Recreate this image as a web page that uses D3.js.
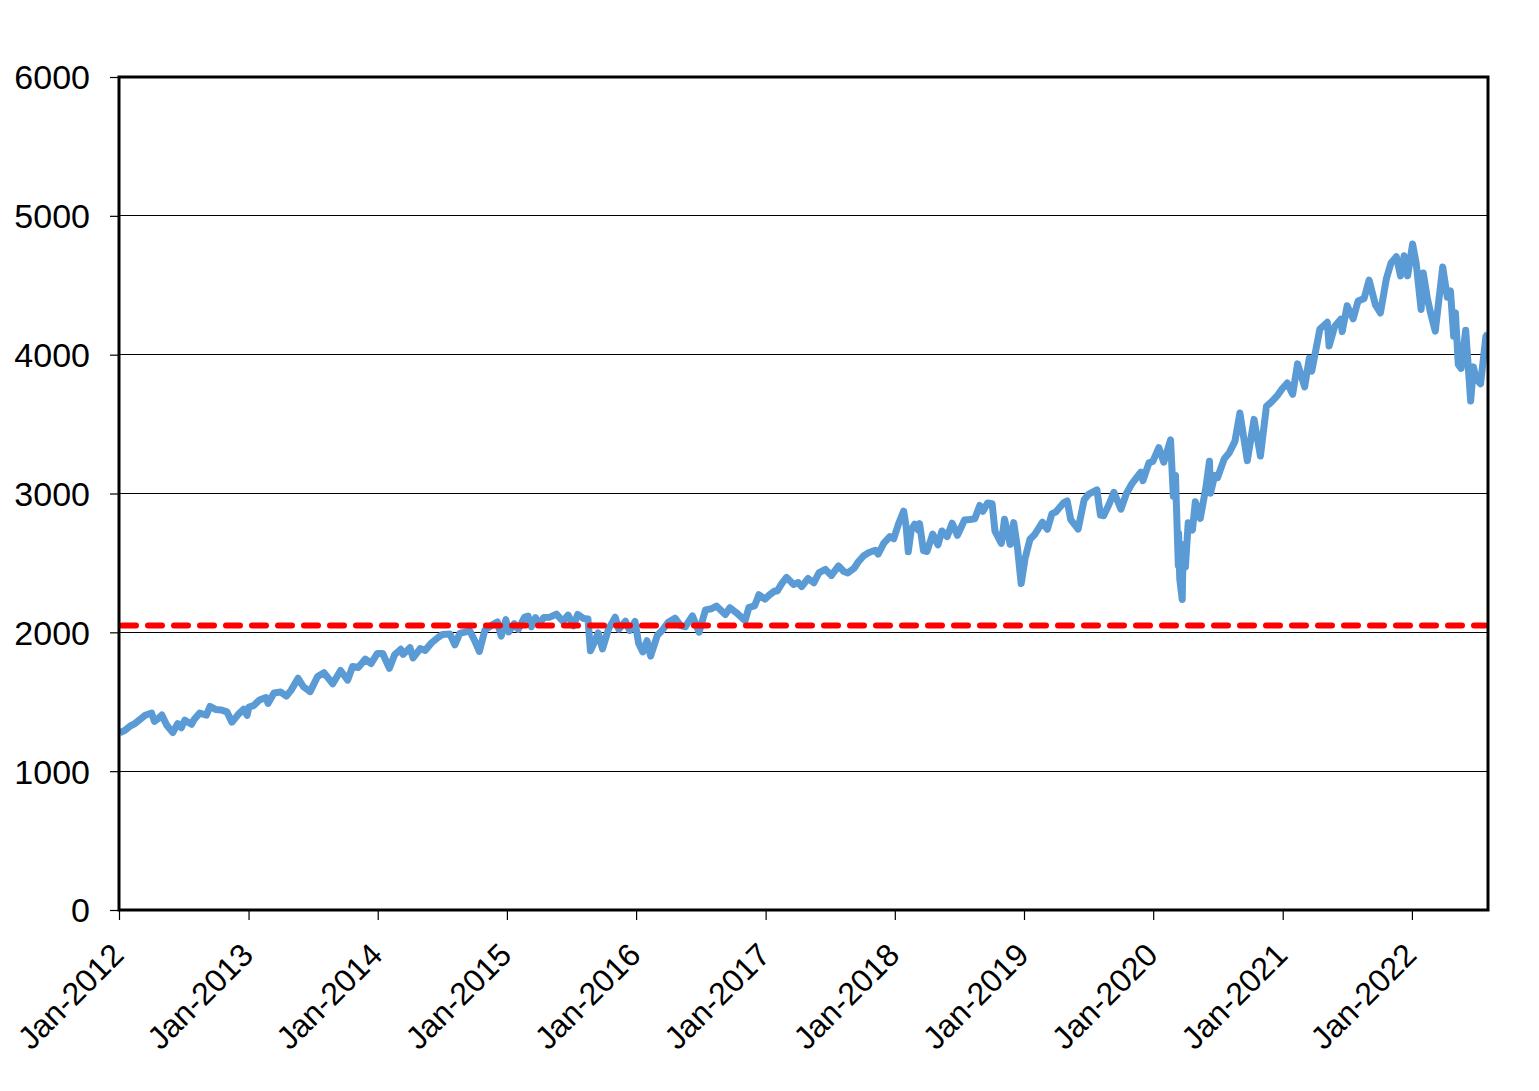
<!DOCTYPE html>
<html>
<head>
<meta charset="utf-8">
<script src="https://cdn.jsdelivr.net/npm/d3@7"></script>
<style>
  html, body { margin: 0; padding: 0; background: #ffffff; }
  svg { display: block; }
</style>
</head>
<body>
<div id="chart"></div>
<script>
// ---------------- data ----------------
const dates = [
  "2012-01-03","2012-01-17","2012-02-01","2012-02-15","2012-03-01","2012-03-15","2012-04-02","2012-04-10","2012-04-20","2012-05-01","2012-05-15","2012-06-01","2012-06-15","2012-06-25","2012-07-05","2012-07-24","2012-08-01","2012-08-16","2012-09-04","2012-09-14","2012-10-01","2012-10-15","2012-11-01","2012-11-15","2012-12-03","2012-12-18","2012-12-28",
  "2013-01-02","2013-01-15","2013-02-01","2013-02-19","2013-02-25","2013-03-14","2013-04-02","2013-04-18","2013-05-01","2013-05-21","2013-06-05","2013-06-24","2013-07-15","2013-08-02","2013-08-27","2013-09-18","2013-10-08","2013-10-22","2013-11-07","2013-11-27","2013-12-13","2013-12-31",
  "2014-01-15","2014-02-03","2014-02-18","2014-03-07","2014-03-14","2014-04-02","2014-04-11","2014-05-01","2014-05-15","2014-06-02","2014-06-20","2014-07-03","2014-07-24","2014-08-07","2014-08-21","2014-09-18","2014-10-01","2014-10-15","2014-10-31","2014-11-20","2014-12-05","2014-12-16","2014-12-29",
  "2015-01-06","2015-01-22","2015-02-02","2015-02-20","2015-03-02","2015-03-11","2015-03-23","2015-04-01","2015-04-15","2015-05-01","2015-05-21","2015-06-08","2015-06-23","2015-07-08","2015-07-20","2015-08-05","2015-08-18","2015-08-25","2015-09-04","2015-09-16","2015-09-28","2015-10-15","2015-11-03","2015-11-13","2015-12-02","2015-12-14","2015-12-29",
  "2016-01-08","2016-01-20","2016-02-01","2016-02-11","2016-03-01","2016-03-15","2016-04-01","2016-04-20","2016-05-05","2016-05-19","2016-06-08","2016-06-27","2016-07-15","2016-08-01","2016-08-15","2016-09-09","2016-09-22","2016-10-14","2016-11-04","2016-11-15","2016-12-01","2016-12-13","2016-12-30",
  "2017-01-12","2017-01-26","2017-02-03","2017-02-15","2017-03-01","2017-03-21","2017-04-03","2017-04-13","2017-05-01","2017-05-17","2017-06-01","2017-06-19","2017-07-06","2017-07-26","2017-08-10","2017-08-21","2017-09-08","2017-09-20","2017-10-05","2017-10-20","2017-11-07","2017-11-15","2017-12-01","2017-12-18","2017-12-29",
  "2018-01-12","2018-01-26","2018-02-02","2018-02-08","2018-02-16","2018-02-26","2018-03-08","2018-03-12","2018-03-23","2018-04-02","2018-04-18","2018-05-03","2018-05-14","2018-05-29","2018-06-12","2018-06-27","2018-07-17","2018-08-01","2018-08-15","2018-08-29","2018-09-07","2018-09-20","2018-10-03","2018-10-11","2018-10-29","2018-11-07","2018-11-23","2018-12-03","2018-12-14","2018-12-24",
  "2019-01-04","2019-01-18","2019-02-01","2019-02-22","2019-03-08","2019-03-21","2019-04-01","2019-04-23","2019-05-03","2019-05-13","2019-06-03","2019-06-20","2019-07-03","2019-07-26","2019-08-05","2019-08-14","2019-08-30","2019-09-12","2019-10-02","2019-10-17","2019-11-01","2019-11-27","2019-12-03","2019-12-20","2019-12-31",
  "2020-01-17","2020-01-31","2020-02-19","2020-02-27","2020-03-04","2020-03-12","2020-03-13","2020-03-16","2020-03-23","2020-03-26","2020-04-01","2020-04-09","2020-04-21","2020-04-29","2020-05-13","2020-05-29","2020-06-08","2020-06-11","2020-06-23","2020-07-01","2020-07-20","2020-08-03","2020-08-19","2020-09-02","2020-09-23","2020-10-12","2020-10-30","2020-11-16","2020-12-01","2020-12-18","2020-12-31",
  "2021-01-14","2021-01-29","2021-02-12","2021-03-04","2021-03-17","2021-03-24","2021-04-16","2021-05-07","2021-05-12","2021-05-28","2021-06-14","2021-06-18","2021-07-02","2021-07-19","2021-08-02","2021-08-19","2021-09-02","2021-09-20","2021-10-04","2021-10-21","2021-11-03","2021-11-18","2021-11-30","2021-12-10","2021-12-20",
  "2022-01-03","2022-01-13","2022-01-27","2022-02-02","2022-02-14","2022-02-24","2022-03-08","2022-03-29","2022-04-11","2022-04-20","2022-04-29","2022-05-04","2022-05-12","2022-05-20","2022-06-02","2022-06-16","2022-06-24","2022-07-01","2022-07-14","2022-07-29","2022-08-04"
];
const closes = [
  1277,1293,1324,1343,1374,1403,1419,1358,1378,1405,1330,1278,1343,1313,1367,1338,1375,1418,1404,1466,1444,1441,1427,1353,1409,1446,1402,
  1462,1472,1513,1530,1488,1563,1570,1541,1582,1669,1608,1573,1682,1709,1630,1725,1656,1754,1747,1807,1775,1848,
  1848,1741,1840,1878,1841,1890,1815,1883,1870,1924,1962,1985,1988,1910,1992,2011,1946,1862,2018,2052,2075,1973,2091,
  2003,2063,2021,2110,2117,2040,2105,2059,2106,2108,2131,2080,2124,2047,2129,2100,2097,1867,1921,1996,1881,2023,2109,2023,2080,2013,2078,
  1922,1859,1940,1829,1978,2015,2073,2102,2050,2040,2119,2001,2162,2170,2190,2128,2177,2133,2085,2180,2191,2271,2239,
  2270,2297,2297,2349,2396,2344,2359,2329,2388,2357,2430,2453,2410,2478,2438,2428,2462,2508,2552,2575,2591,2564,2642,2690,2674,
  2786,2873,2762,2581,2732,2780,2738,2783,2588,2582,2708,2630,2730,2690,2786,2699,2809,2813,2818,2914,2872,2931,2926,2729,2641,2814,2633,2790,2600,2351,
  2532,2671,2707,2793,2743,2855,2867,2934,2946,2812,2744,2955,2996,3026,2844,2840,2926,3009,2887,2998,3067,3154,3093,3221,3231,
  3330,3225,3386,2979,3130,2481,2711,2386,2237,2630,2470,2790,2737,2940,2820,3044,3232,3002,3131,3115,3251,3294,3375,3580,3237,3534,3270,3627,3662,3709,3756,
  3796,3714,3934,3768,3974,3881,4185,4233,4063,4204,4255,4166,4352,4258,4387,4405,4537,4358,4300,4549,4660,4705,4567,4712,4568,
  4797,4659,4326,4589,4401,4288,4170,4631,4413,4459,4132,4300,3930,3901,4176,3667,3912,3825,3790,4130,4152
];
const referenceLevel = 2050;            // red dashed horizontal line
const yTickValues = [0, 1000, 2000, 3000, 4000, 5000, 6000];
const xTickYears = [2012, 2013, 2014, 2015, 2016, 2017, 2018, 2019, 2020, 2021, 2022];
const xStart = "2012-01-01";
const xEnd = "2022-08-04";

// ---------------- layout ----------------
const W = 1539, H = 1091;
const plot = { left: 119, top: 77, right: 1488, bottom: 910 };
const parse = d3.timeParse("%Y-%m-%d");
const series = dates.map((d, i) => ({ date: parse(d), value: closes[i] }));

const svg = d3.select("#chart").append("svg")
  .attr("width", W).attr("height", H)
  .style("background", "#ffffff");

const x = d3.scaleTime()
  .domain([parse(xStart), parse(xEnd)])
  .range([plot.left, plot.right]);
const y = d3.scaleLinear()
  .domain([0, 6000])
  .range([plot.bottom, plot.top]);

// gridlines
svg.append("g")
  .selectAll("line")
  .data(yTickValues.filter(v => v > 0 && v < 6000))
  .join("line")
  .attr("x1", plot.left).attr("x2", plot.right)
  .attr("y1", d => y(d)).attr("y2", d => y(d))
  .attr("stroke", "#000").attr("stroke-width", 1)
  .attr("shape-rendering", "crispEdges");

// y axis
const yAxis = svg.append("g")
  .attr("transform", `translate(${plot.left},0)`)
  .call(d3.axisLeft(y).tickValues(yTickValues).tickSize(9).tickPadding(20).tickFormat(d3.format("d")));
yAxis.select(".domain").remove();
yAxis.selectAll(".tick line").attr("stroke", "#000").attr("stroke-width", 1.2);
yAxis.selectAll(".tick text")
  .attr("fill", "#000")
  .attr("x", -29)
  .style("font-family", "'Liberation Sans', Arial, sans-serif")
  .style("font-size", "34px")
  .attr("dy", "0.35em");

// x axis
const xTicks = xTickYears.map(yr => new Date(yr, 0, 1));
const xAxis = svg.append("g")
  .attr("transform", `translate(0,${plot.bottom})`)
  .call(d3.axisBottom(x).tickValues(xTicks).tickSize(10).tickFormat(d3.timeFormat("%b-%Y")));
xAxis.select(".domain").remove();
xAxis.selectAll(".tick line").attr("stroke", "#000").attr("stroke-width", 1.2);
xAxis.selectAll(".tick text")
  .attr("fill", "#000")
  .attr("text-anchor", "end")
  .attr("y", 0).attr("dy", 0)
  .attr("transform", "translate(6,47) rotate(-45)")
  .style("font-family", "'Liberation Sans', Arial, sans-serif")
  .style("font-size", "32px");

// clip
svg.append("clipPath").attr("id", "plotclip")
  .append("rect")
  .attr("x", plot.left).attr("y", plot.top)
  .attr("width", plot.right - plot.left).attr("height", plot.bottom - plot.top);

// data line
const line = d3.line()
  .x(d => x(d.date))
  .y(d => y(d.value))
  .curve(d3.curveLinear);

svg.append("path")
  .datum(series)
  .attr("clip-path", "url(#plotclip)")
  .attr("d", line)
  .attr("fill", "none")
  .attr("stroke", "#5B9BD5")
  .attr("stroke-width", 7)
  .attr("stroke-linejoin", "round")
  .attr("stroke-linecap", "butt");

// red dashed reference line
svg.append("line")
  .attr("x1", x(parse(xStart)) + 3).attr("x2", x(parse(xEnd)) - 3)
  .attr("y1", y(referenceLevel)).attr("y2", y(referenceLevel))
  .attr("stroke", "#FF0000")
  .attr("stroke-width", 6)
  .attr("stroke-dasharray", "14,12")
  .attr("stroke-linecap", "round");

// frame
svg.append("rect")
  .attr("x", plot.left).attr("y", plot.top)
  .attr("width", plot.right - plot.left).attr("height", plot.bottom - plot.top)
  .attr("fill", "none")
  .attr("stroke", "#000")
  .attr("stroke-width", 3);
</script>
</body>
</html>
